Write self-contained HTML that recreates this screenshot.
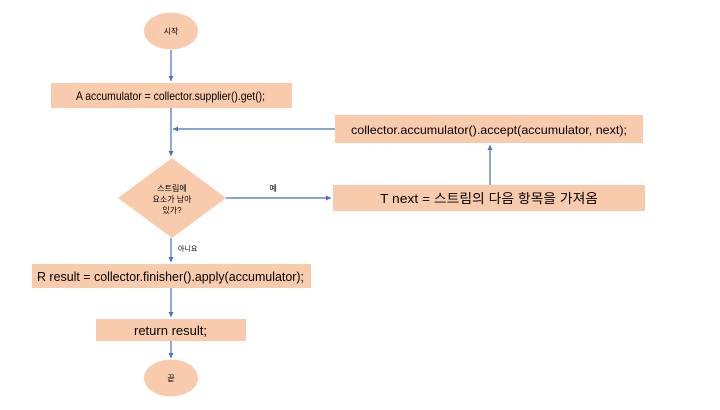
<!DOCTYPE html>
<html><head><meta charset="utf-8"><style>
html,body{margin:0;padding:0;background:#fff;}
text{font-family:"Liberation Sans","Noto Sans CJK KR",sans-serif;fill:#000;}
</style></head><body>
<svg width="720" height="405" viewBox="0 0 720 405" xmlns="http://www.w3.org/2000/svg">
<defs><marker id="a" markerWidth="6" markerHeight="6" refX="5" refY="3" orient="auto" markerUnits="userSpaceOnUse"><path d="M0,0.5 L5,3 L0,5.5z" fill="#4472c4"/></marker></defs>
<g fill="#f8cbad" stroke="none">
<ellipse cx="171" cy="31" rx="27" ry="18.5"/>
<rect x="51" y="83" width="241" height="25"/>
<rect x="335" y="115" width="308" height="28"/>
<polygon points="172,158 226,198 172,238 118,198"/>
<rect x="333" y="185" width="312" height="26"/>
<rect x="32" y="264" width="279" height="24"/>
<rect x="96" y="319" width="150" height="22"/>
<ellipse cx="171" cy="378" rx="27" ry="18.5"/>
</g>
<g stroke="#4472c4" stroke-width="1.2" fill="none">
<line x1="171" y1="50" x2="171" y2="81" marker-end="url(#a)"/>
<line x1="171" y1="108" x2="171" y2="156" marker-end="url(#a)"/>
<line x1="335" y1="129" x2="173" y2="129" marker-end="url(#a)"/>
<line x1="226" y1="198" x2="331" y2="198" marker-end="url(#a)"/>
<line x1="490" y1="185" x2="490" y2="145" marker-end="url(#a)"/>
<line x1="171" y1="238" x2="171" y2="262" marker-end="url(#a)"/>
<line x1="171" y1="288" x2="171" y2="317" marker-end="url(#a)"/>
<line x1="171" y1="341" x2="171" y2="358" marker-end="url(#a)"/>
</g>
<text x="171" y="34" font-size="8" text-anchor="middle">시작</text>
<text x="76" y="100" font-size="12" textLength="189" lengthAdjust="spacingAndGlyphs">A accumulator = collector.supplier().get();</text>
<text x="351" y="134" font-size="12" textLength="276" lengthAdjust="spacingAndGlyphs">collector.accumulator().accept(accumulator, next);</text>
<g text-anchor="middle">
<text x="172" y="191" font-size="8">스트림에</text>
<text x="172" y="202" font-size="8">요소가 남아</text>
<text x="172" y="213" font-size="8">있가?</text>
<text x="273" y="191" font-size="8">예</text>
<text x="171" y="381" font-size="8">끝</text>
</g>
<text x="380" y="203" font-size="13" textLength="218" lengthAdjust="spacingAndGlyphs">T next = 스트림의 다음 항목을 가져옴</text>
<text x="37" y="281" font-size="13" textLength="267" lengthAdjust="spacingAndGlyphs">R result = collector.finisher().apply(accumulator);</text>
<text x="134" y="335" font-size="13" textLength="73" lengthAdjust="spacingAndGlyphs">return result;</text>
<text x="178" y="251" font-size="7">아니요</text>
</svg>
</body></html>
